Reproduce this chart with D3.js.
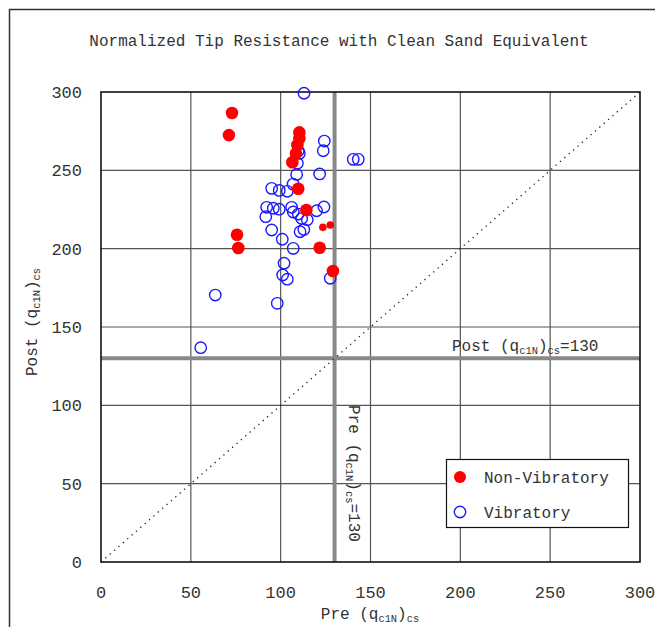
<!DOCTYPE html>
<html><head><meta charset="utf-8">
<script src="https://cdn.jsdelivr.net/npm/d3@7"></script>
<style>body{margin:0;background:#fff}svg{display:block}text{font-family:"Liberation Mono",monospace;fill:#333}</style>
</head><body>
<script>
const xTicks = [0,50,100,150,200,250,300];
const yTicks = [0,50,100,150,200,250,300];
const titleText = "Normalized Tip Resistance with Clean Sand Equivalent";
const seriesNames = ["Non-Vibratory","Vibratory"];
const thresholdPre = 130, thresholdPost = 130;
// Non-Vibratory [pre, post]
const nonVibratory = [
 [72.9,286.6],[71.2,272.5],[110.4,274.2],[110.4,270.4],[109.3,266.2],[108.5,260.8],
 [106.5,255.2],[109.8,238.2],[114.3,224.7],[75.7,208.9],[76.4,200.4],[121.7,200.6],[129.1,185.7]
];
const nonVibratorySmall = [[123.5,213.6],[127.6,215.1]];
// Vibratory [pre, post]
const vibratory = [
 [113,299.2],[124.3,268.7],[123.7,262.5],[140.4,257],[143.2,257],[109.8,262.3],[110.4,260.8],
 [109.3,254.5],[108.9,247.4],[121.7,247.7],[106.9,241.2],[95,238.5],[99.2,237.2],[103.7,236.6],
 [92.2,226.4],[95.9,225.8],[99.2,225.2],[91.7,220.4],[106.1,226.4],[107,223.4],[109.8,222.1],
 [114.8,218.5],[111.7,219.3],[120,224.2],[124.1,226.6],[95,211.9],[110.8,210.8],[112.9,212.2],
 [100.9,206],[107,200.2],[101.9,190.7],[101.1,183.2],[103.7,180.5],[127.6,181.1],[63.6,170.4],
 [98.1,165.1],[55.5,136.8]
];

const W=655,H=627;
const svg=d3.select("body").append("svg").attr("width",W).attr("height",H);
svg.append("rect").attr("width",W).attr("height",H).attr("fill","#fff");
svg.append("rect").attr("x",9.5).attr("y",9.5).attr("width",700).attr("height",700)
  .attr("fill","none").attr("stroke","#333").attr("stroke-width",1.5);

const x=d3.scaleLinear().domain([0,300]).range([101,640]);
const y=d3.scaleLinear().domain([0,300]).range([562,92]);

// grid
svg.append("g").selectAll("line").data(xTicks.slice(1,-1)).join("line")
  .attr("x1",d=>x(d)).attr("x2",d=>x(d)).attr("y1",y(0)).attr("y2",y(300))
  .attr("stroke","#555").attr("stroke-width",1.2);
svg.append("g").selectAll("line").data(yTicks.slice(1,-1)).join("line")
  .attr("y1",d=>y(d)).attr("y2",d=>y(d)).attr("x1",x(0)).attr("x2",x(300))
  .attr("stroke","#555").attr("stroke-width",1.2);

// threshold lines
svg.append("line").attr("x1",x(thresholdPre)).attr("x2",x(thresholdPre)).attr("y1",y(0)).attr("y2",y(300))
  .attr("stroke","#888").attr("stroke-width",4);
svg.append("line").attr("y1",y(thresholdPost)).attr("y2",y(thresholdPost)).attr("x1",x(0)).attr("x2",x(300))
  .attr("stroke","#888").attr("stroke-width",4);

// 1:1 line
svg.append("line").attr("x1",x(0)).attr("y1",y(0)).attr("x2",x(300)).attr("y2",y(300))
  .attr("stroke","#222").attr("stroke-width",1.3).attr("stroke-dasharray","1.3,4.5");

// plot border
svg.append("rect").attr("x",x(0)).attr("y",y(300)).attr("width",x(300)-x(0)).attr("height",y(0)-y(300))
  .attr("fill","none").attr("stroke","#111").attr("stroke-width",1.6);

// data
svg.append("g").selectAll("circle").data(vibratory).join("circle")
  .attr("cx",d=>x(d[0])).attr("cy",d=>y(d[1])).attr("r",5.7)
  .attr("fill","none").attr("stroke","#1a1aff").attr("stroke-width",1.4);
svg.append("g").selectAll("circle").data(nonVibratory).join("circle")
  .attr("cx",d=>x(d[0])).attr("cy",d=>y(d[1])).attr("r",6.3).attr("fill","#ff0000");
svg.append("g").selectAll("circle").data(nonVibratorySmall).join("circle")
  .attr("cx",d=>x(d[0])).attr("cy",d=>y(d[1])).attr("r",3.8).attr("fill","#ff0000");

// tick labels
svg.append("g").selectAll("text").data(yTicks).join("text")
  .attr("x",82).attr("y",d=>y(d)+6).attr("text-anchor","end").attr("font-size",17).text(d=>d);
svg.append("g").selectAll("text").data(xTicks).join("text")
  .attr("x",d=>x(d)).attr("y",598).attr("text-anchor","middle").attr("font-size",17).text(d=>d);

// title
svg.append("text").attr("x",339).attr("y",46).attr("text-anchor","middle").attr("font-size",16).text(titleText);

function qLabel(sel,prefix,suffix,fs){
  sel.append("tspan").text(prefix+"(q");
  sel.append("tspan").attr("font-size",fs*0.65).attr("dy",fs*0.2).text("c1N");
  sel.append("tspan").attr("dy",-fs*0.2).text(")");
  sel.append("tspan").attr("font-size",fs*0.65).attr("dy",fs*0.2).text("cs");
  if(suffix) sel.append("tspan").attr("dy",-fs*0.2).text(suffix);
}
// x-axis label
qLabel(svg.append("text").attr("x",370).attr("y",619).attr("text-anchor","middle").attr("font-size",16),"Pre ","",16);
// y-axis label
qLabel(svg.append("text").attr("transform","translate(37,322) rotate(-90)").attr("text-anchor","middle").attr("font-size",16),"Post ","",16);
// annotations
qLabel(svg.append("text").attr("x",452).attr("y",351).attr("font-size",16),"Post ","=130",16);
qLabel(svg.append("text").attr("transform","translate(349,405) rotate(90)").attr("font-size",16),"Pre ","=130",16);

// legend
const lg=svg.append("g");
lg.append("rect").attr("x",446.5).attr("y",459.5).attr("width",182).attr("height",68)
  .attr("fill","#fff").attr("stroke","#111").attr("stroke-width",1.2);
lg.append("circle").attr("cx",460).attr("cy",477).attr("r",6).attr("fill","#ff0000");
lg.append("circle").attr("cx",460).attr("cy",512).attr("r",5.7).attr("fill","none").attr("stroke","#1a1aff").attr("stroke-width",1.4);
lg.append("text").attr("x",484).attr("y",483).attr("font-size",16).text(seriesNames[0]);
lg.append("text").attr("x",484).attr("y",518).attr("font-size",16).text(seriesNames[1]);
</script>
</body></html>
